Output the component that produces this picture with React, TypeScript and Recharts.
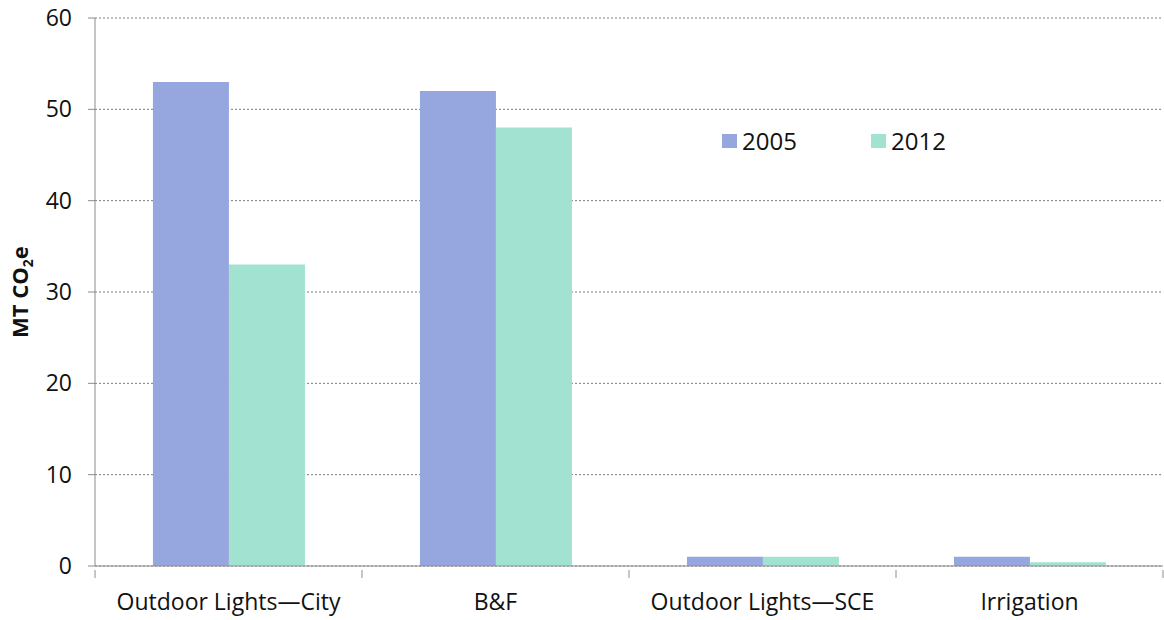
import { BarChart, Bar, XAxis, YAxis, CartesianGrid } from "recharts";

const categories = ["Outdoor Lights\u2014City", "B&F", "Outdoor Lights\u2014SCE", "Irrigation"];
const values2005 = [53, 52, 1, 1];
const values2012 = [33, 48, 1, 0.4];
const yTicks = [0, 10, 20, 30, 40, 50, 60];

const data = categories.map((name, i) => ({ name, y2005: values2005[i], y2012: values2012[i] }));

const FONT = "'Open Sans', 'Liberation Sans', sans-serif";
const W = 1164;
const H = 620;
const LEFT = 95;
const RIGHT = 1;
const BAND = (W - LEFT - RIGHT) / categories.length;
const C2005 = "#96a6df";
const C2012 = "#a2e2d1";

const CategoryTick = (props: any) => {
  const { x, y, payload, index } = props;
  const left = x - BAND / 2;
  return (
    <g>
      <line x1={left} x2={left} y1={y - 4} y2={y + 4} stroke="#8c8c8c" strokeWidth={1} />
      {index === categories.length - 1 && (
        <line x1={x + BAND / 2} x2={x + BAND / 2} y1={y - 4} y2={y + 4} stroke="#8c8c8c" />
      )}
      <text x={x} y={y + 36} textAnchor="middle" fontSize={23} fill="#111" fontFamily={FONT}>
        {payload.value}
      </text>
    </g>
  );
};

const YLabel = () => (
  <text
    transform="translate(28,292) rotate(-90)"
    textAnchor="middle"
    fontSize={22}
    fontWeight="bold"
    fill="#111"
    fontFamily={FONT}
  >
    MT CO<tspan fontSize={14} dy={5}>2</tspan>
    <tspan dy={-5}>e</tspan>
  </text>
);

export default function App() {
  return (
    <div style={{ position: "absolute", left: 0, top: 0, width: W, height: H, background: "#fff" }}>
      <BarChart
        width={W}
        height={H}
        data={data}
        margin={{ top: 18, right: RIGHT, bottom: 0, left: 0 }}
        barCategoryGap="21.7%"
        barGap={0}
      >
        <CartesianGrid vertical={false} stroke="#7a7a7a" strokeDasharray="2 2" />
        <XAxis
          dataKey="name"
          height={54}
          axisLine={{ stroke: "#8c8c8c" }}
          tickLine={false}
          tick={<CategoryTick />}
          interval={0}
        />
        <YAxis
          width={LEFT}
          domain={[0, 60]}
          ticks={yTicks}
          axisLine={{ stroke: "#8c8c8c" }}
          tickLine={{ stroke: "#8c8c8c" }}
          tickSize={7}
          tickMargin={16}
          tick={{ fontSize: 23, fill: "#111", fontFamily: FONT }}
          label={<YLabel />}
        />
        <Bar dataKey="y2005" name="2005" fill={C2005} isAnimationActive={false} />
        <Bar dataKey="y2012" name="2012" fill={C2012} isAnimationActive={false} />
      </BarChart>
      <div
        style={{
          position: "absolute",
          top: 124,
          left: 722,
          display: "flex",
          fontFamily: FONT,
          fontSize: 24,
          color: "#111",
        }}
      >
        <div style={{ display: "flex", alignItems: "center", width: 149 }}>
          <span style={{ width: 15, height: 14, background: C2005, marginRight: 5 }} />
          2005
        </div>
        <div style={{ display: "flex", alignItems: "center" }}>
          <span style={{ width: 15, height: 14, background: C2012, marginRight: 5 }} />
          2012
        </div>
      </div>
    </div>
  );
}
